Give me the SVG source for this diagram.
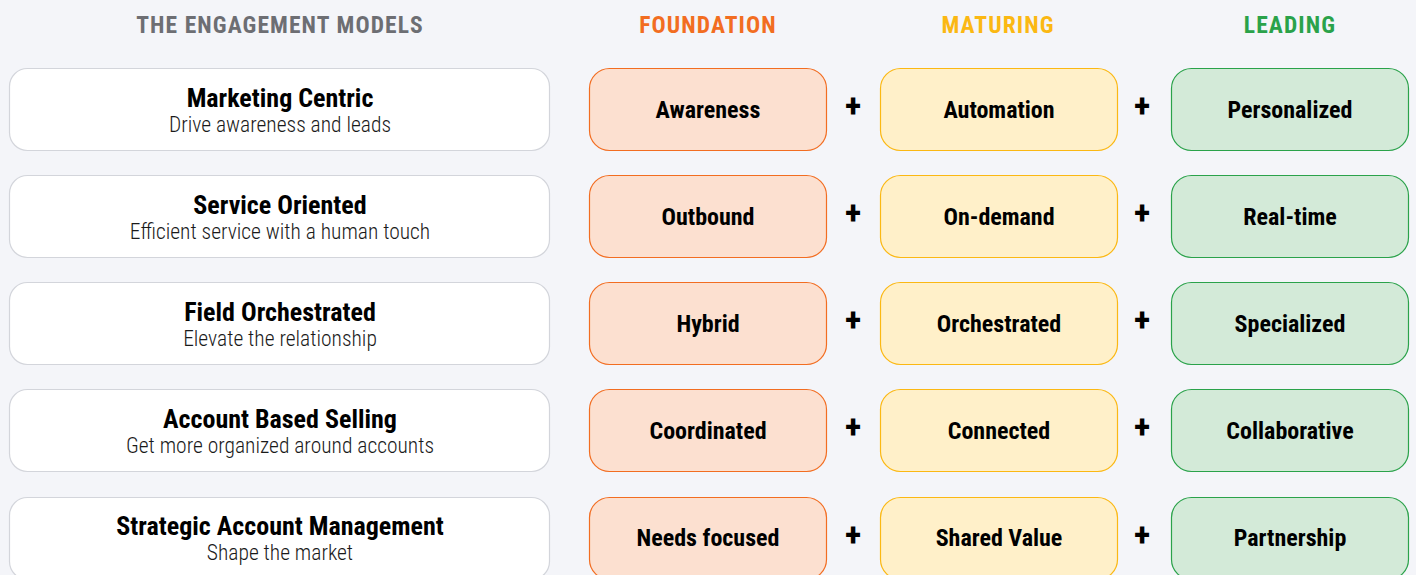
<svg xmlns="http://www.w3.org/2000/svg" width="1416" height="575" viewBox="0 0 1416 575">
<style>
text{font-family:"Roboto Condensed",Roboto,"Liberation Sans",sans-serif;font-stretch:condensed;text-anchor:middle}
.hd{font-size:23.5px;font-weight:700;letter-spacing:1.1px}
.mb{fill:#fff;stroke:#d3d5db;stroke-width:1.2}
.t{font-size:26px;font-weight:700;fill:#000}
.s{font-size:21.5px;font-weight:300;fill:#1a1a1a}
.f{fill:#fce0d0;stroke:#f26d21;stroke-width:1.2}
.m{fill:#fff0c9;stroke:#fbb813;stroke-width:1.2}
.l{fill:#d3ead8;stroke:#2aa24a;stroke-width:1.2}
.b{font-size:24px;font-weight:700;fill:#000}
.p{font-size:34px;font-weight:700;fill:#000}
</style>
<rect width="1416" height="575" fill="#f4f5f9"/>
<g id="headers">
<text class="hd" x="280" y="33" fill="#6d6e73">THE ENGAGEMENT MODELS</text>
<text class="hd" x="708" y="33" fill="#f26d21">FOUNDATION</text>
<text class="hd" x="998" y="33" fill="#fbb813">MATURING</text>
<text class="hd" x="1290" y="33" fill="#2aa24a">LEADING</text>
</g>
<g id="row1">
<g id="model1"><rect class="mb" x="9.5" y="68.5" width="540" height="82" rx="18"/><text class="t" x="280" y="107">Marketing Centric</text><text class="s" x="280" y="132">Drive awareness and leads</text></g>
<g id="f1"><rect class="f" x="589.5" y="68.5" width="237" height="82" rx="20"/><text class="b" x="708" y="118">Awareness</text></g>
<g id="m1"><rect class="m" x="880.5" y="68.5" width="237" height="82" rx="20"/><text class="b" x="999" y="118">Automation</text></g>
<g id="l1"><rect class="l" x="1171.5" y="68.5" width="237" height="82" rx="20"/><text class="b" x="1290" y="118">Personalized</text></g>
</g>
<g id="row2">
<g id="model2"><rect class="mb" x="9.5" y="175.5" width="540" height="82" rx="18"/><text class="t" x="280" y="214">Service Oriented</text><text class="s" x="280" y="239">Efficient service with a human touch</text></g>
<g id="f2"><rect class="f" x="589.5" y="175.5" width="237" height="82" rx="20"/><text class="b" x="708" y="225">Outbound</text></g>
<g id="m2"><rect class="m" x="880.5" y="175.5" width="237" height="82" rx="20"/><text class="b" x="999" y="225">On-demand</text></g>
<g id="l2"><rect class="l" x="1171.5" y="175.5" width="237" height="82" rx="20"/><text class="b" x="1290" y="225">Real-time</text></g>
</g>
<g id="row3">
<g id="model3"><rect class="mb" x="9.5" y="282.5" width="540" height="82" rx="18"/><text class="t" x="280" y="321">Field Orchestrated</text><text class="s" x="280" y="346">Elevate the relationship</text></g>
<g id="f3"><rect class="f" x="589.5" y="282.5" width="237" height="82" rx="20"/><text class="b" x="708" y="332">Hybrid</text></g>
<g id="m3"><rect class="m" x="880.5" y="282.5" width="237" height="82" rx="20"/><text class="b" x="999" y="332">Orchestrated</text></g>
<g id="l3"><rect class="l" x="1171.5" y="282.5" width="237" height="82" rx="20"/><text class="b" x="1290" y="332">Specialized</text></g>
</g>
<g id="row4">
<g id="model4"><rect class="mb" x="9.5" y="389.5" width="540" height="82" rx="18"/><text class="t" x="280" y="428">Account Based Selling</text><text class="s" x="280" y="453">Get more organized around accounts</text></g>
<g id="f4"><rect class="f" x="589.5" y="389.5" width="237" height="82" rx="20"/><text class="b" x="708" y="439">Coordinated</text></g>
<g id="m4"><rect class="m" x="880.5" y="389.5" width="237" height="82" rx="20"/><text class="b" x="999" y="439">Connected</text></g>
<g id="l4"><rect class="l" x="1171.5" y="389.5" width="237" height="82" rx="20"/><text class="b" x="1290" y="439">Collaborative</text></g>
</g>
<g id="row5">
<g id="model5"><rect class="mb" x="9.5" y="497.5" width="540" height="82" rx="18"/><text class="t" x="280" y="535">Strategic Account Management</text><text class="s" x="280" y="560">Shape the market</text></g>
<g id="f5"><rect class="f" x="589.5" y="497.5" width="237" height="82" rx="20"/><text class="b" x="708" y="546">Needs focused</text></g>
<g id="m5"><rect class="m" x="880.5" y="497.5" width="237" height="82" rx="20"/><text class="b" x="999" y="546">Shared Value</text></g>
<g id="l5"><rect class="l" x="1171.5" y="497.5" width="237" height="82" rx="20"/><text class="b" x="1290" y="546">Partnership</text></g>
</g>
<g id="connectors">
<text class="p" x="853" y="117">+</text><text class="p" x="1142" y="117">+</text>
<text class="p" x="853" y="224">+</text><text class="p" x="1142" y="224">+</text>
<text class="p" x="853" y="331">+</text><text class="p" x="1142" y="331">+</text>
<text class="p" x="853" y="438">+</text><text class="p" x="1142" y="438">+</text>
<text class="p" x="853" y="546">+</text><text class="p" x="1142" y="546">+</text>
</g>
</svg>
